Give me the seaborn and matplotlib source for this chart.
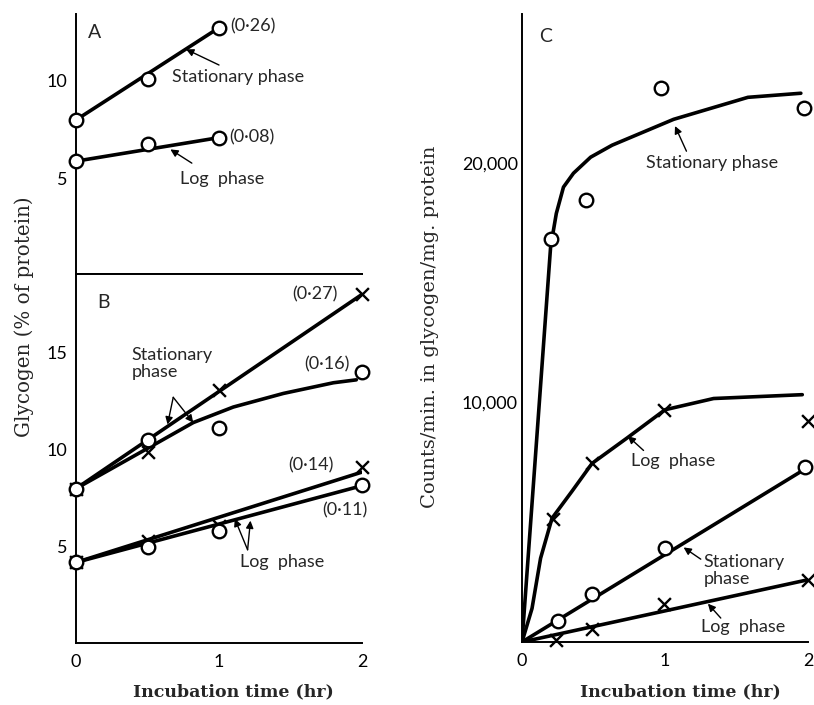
import matplotlib
matplotlib.use("Agg")
import matplotlib.pyplot as plt
import seaborn as sns

sns.set_style("white")
plt.rcParams['font.family'] = ['Lato', 'DejaVu Sans']

# ---------------- data ----------------
# Panel A: glycogen (% of protein), open circles
a_time = [0, 0.5, 1]
a_stationary = [8.0, 10.1, 12.7]
a_log = [5.9, 6.8, 7.1]
a_fit_time = [0, 1]
a_stationary_fit = [8.0, 12.7]
a_log_fit = [5.9, 7.1]

# Panel B: crosses and circles
b_time = [0, 0.5, 1, 2]
b_stat_cross = [8.0, 9.9, 13.1, 18.0]
b_stat_circle = [8.0, 10.5, 11.1, 14.0]
b_log_cross = [4.2, 5.3, 6.1, 9.1]
b_log_circle = [4.2, 5.0, 5.8, 8.2]
b_line_time = [0, 2]
b_stat_cross_fit = [8.0, 18.0]
b_stat_circle_fit_time = [0, 0.57, 0.82, 1.10, 1.45, 1.80, 1.96]
b_stat_circle_fit = [8.0, 10.36, 11.4, 12.2, 12.9, 13.45, 13.6]
b_log_cross_fit = [4.2, 8.85]
b_log_circle_fit = [4.2, 8.15]

# Panel C: counts/min in glycogen/mg protein
c_stat_top_time = [0.2, 0.45, 0.97, 1.97]
c_stat_top = [16850, 18450, 23150, 22300]
c_log_top_time = [0.22, 0.49, 0.99, 2.0]
c_log_top = [5130, 7460, 9700, 9250]
c_stat_low_time = [0.25, 0.49, 1.0, 1.98]
c_stat_low = [880, 2000, 3920, 7290]
c_log_low_time = [0.24, 0.49, 0.99, 2.0]
c_log_low = [80, 540, 1580, 2580]

c_stat_top_fit_time = [0, 0.2, 0.24, 0.29, 0.36, 0.48, 0.63, 1.06, 1.58, 1.95]
c_stat_top_fit = [0, 16500, 17900, 19000, 19580, 20250, 20750, 21830, 22750, 22920]
c_log_top_fit_time = [0, 0.07, 0.13, 0.21, 0.35, 0.49, 0.73, 1.0, 1.34, 1.96]
c_log_top_fit = [0, 1400, 3500, 5170, 6300, 7460, 8500, 9700, 10170, 10330]
c_line_time = [0, 2]
c_stat_low_fit = [0, 7300]
c_log_low_fit = [0, 2600]

x_tick_labels = ["0", "1", "2"]
c_y_tick_labels = ["10,000", "20,000"]

# ---------------- figure ----------------
W, H = 814, 705
fig = plt.figure(figsize=(W / 100, H / 100), dpi=100)


def box(l, t, r, b):
    return [l / W, 1 - b / H, (r - l) / W, (b - t) / H]


axA = fig.add_axes(box(76, 14, 362, 274))
axB = fig.add_axes(box(76, 274, 362, 643))
axC = fig.add_axes(box(522, 14, 808, 642))

LW = 2.6
FS = 13


def fit(ax, x, y):
    sns.lineplot(x=x, y=y, ax=ax, color="black", linewidth=LW,
                 estimator=None, sort=False, legend=False, zorder=3)


def pts(ax, x, y, m):
    if m == "o":
        sns.scatterplot(x=x, y=y, ax=ax, marker="o", s=95, facecolor="white",
                        edgecolor="black", linewidth=1.7, zorder=5, legend=False)
    else:
        sns.scatterplot(x=x, y=y, ax=ax, marker="x", s=85, color="black",
                        linewidth=1.7, zorder=5, legend=False)
    ax.collections[-1].set_clip_on(False)


def arrow(ax, tail, head):
    ax.annotate("", xy=head, xytext=tail,
                arrowprops=dict(arrowstyle="-|>", color="black", lw=1.0,
                                mutation_scale=11, shrinkA=0, shrinkB=0))


# Panel A
fit(axA, a_fit_time, a_stationary_fit)
fit(axA, a_fit_time, a_log_fit)
pts(axA, a_time, a_stationary, "o")
pts(axA, a_time, a_log, "o")
axA.text(0.08, 12.45, "A", fontsize=14, va="center", ha="left")
axA.text(1.08, 12.75, "(0·26)", fontsize=FS, va="center", ha="left")
axA.text(0.67, 10.2, "Stationary phase", fontsize=FS, va="center", ha="left")
arrow(axA, (1.0, 10.8), (0.77, 11.6))
axA.text(1.07, 7.1, "(0·08)", fontsize=FS, va="center", ha="left")
axA.text(0.73, 5.0, "Log  phase", fontsize=FS, va="center", ha="left")
arrow(axA, (0.81, 5.8), (0.66, 6.5))

# Panel B
fit(axB, b_line_time, b_stat_cross_fit)
fit(axB, b_stat_circle_fit_time, b_stat_circle_fit)
fit(axB, b_line_time, b_log_cross_fit)
fit(axB, b_line_time, b_log_circle_fit)
pts(axB, b_time, b_stat_cross, "x")
pts(axB, b_time, b_stat_circle, "o")
pts(axB, b_time, b_log_cross, "x")
pts(axB, b_time, b_log_circle, "o")
axB.text(0.15, 17.6, "B", fontsize=14, va="center", ha="left")
axB.text(1.83, 18.0, "(0·27)", fontsize=FS, va="center", ha="right")
axB.text(1.91, 14.4, "(0·16)", fontsize=FS, va="center", ha="right")
axB.text(1.80, 9.2, "(0·14)", fontsize=FS, va="center", ha="right")
axB.text(1.72, 6.9, "(0·11)", fontsize=FS, va="center", ha="left")
axB.text(0.39, 14.45, "Stationary\nphase", fontsize=FS, va="center", ha="left",
         linespacing=1.1)
arrow(axB, (0.68, 12.7), (0.64, 11.3))
arrow(axB, (0.68, 12.7), (0.82, 11.4))
axB.text(1.15, 4.2, "Log  phase", fontsize=FS, va="center", ha="left")
arrow(axB, (1.2, 4.85), (1.11, 6.45))
arrow(axB, (1.2, 4.85), (1.22, 6.35))

# Panel C
fit(axC, c_stat_top_fit_time, c_stat_top_fit)
fit(axC, c_log_top_fit_time, c_log_top_fit)
fit(axC, c_line_time, c_stat_low_fit)
fit(axC, c_line_time, c_log_low_fit)
pts(axC, c_stat_top_time, c_stat_top, "o")
pts(axC, c_log_top_time, c_log_top, "x")
pts(axC, c_stat_low_time, c_stat_low, "o")
pts(axC, c_log_low_time, c_log_low, "x")
axC.text(0.12, 25300, "C", fontsize=14, va="center", ha="left")
axC.text(0.87, 20000, "Stationary phase", fontsize=FS, va="center", ha="left")
arrow(axC, (1.15, 20500), (1.07, 21550))
axC.text(0.76, 7540, "Log  phase", fontsize=FS, va="center", ha="left")
arrow(axC, (0.85, 8000), (0.74, 8600))
axC.text(1.27, 2980, "Stationary\nphase", fontsize=FS, va="center", ha="left",
         linespacing=1.1)
arrow(axC, (1.25, 3460), (1.13, 3950))
axC.text(1.25, 630, "Log  phase", fontsize=FS, va="center", ha="left")
arrow(axC, (1.39, 1000), (1.30, 1600))

# ---------------- axes styling ----------------
for ax in (axA, axB, axC):
    ax.set_xlim(0, 2)
    ax.set_xlabel("")
    ax.set_ylabel("")
    ax.spines["right"].set_visible(False)
    for s in ax.spines.values():
        s.set_linewidth(1.4)
        s.set_color("black")
    ax.tick_params(which="both", direction="in", width=1.3, colors="black",
                   labelsize=FS, pad=6)
    ax.tick_params(axis="y", which="both", length=8)
    ax.tick_params(axis="x", which="both", length=10)

axA.spines["top"].set_visible(False)
axC.spines["top"].set_visible(False)

axA.set_ylim(0.15, 13.4)
axA.set_xticks([0.5, 1])
axA.tick_params(axis="x", labelbottom=False, length=12)
axA.set_yticks([5, 10])

axB.set_ylim(0.05, 19.05)
axB.set_xticks([0, 1, 2])
axB.set_xticklabels(x_tick_labels)
axB.set_xticks([0.5, 1.5], minor=True)
axB.set_yticks([5, 10, 15])
axB.tick_params(axis="x", pad=8)

axC.set_ylim(0, 26230)
axC.set_xticks([0, 1, 2])
axC.set_xticklabels(x_tick_labels)
axC.set_xticks([0.5, 1.5], minor=True)
axC.set_yticks([10000, 20000])
axC.set_yticklabels(c_y_tick_labels)
axC.set_yticks([5000, 15000], minor=True)
axC.tick_params(axis="x", pad=8)
axC.tick_params(axis="y", which="both", length=12, pad=3)

# axis titles
serif = ["DejaVu Serif"]
fig.text(24 / W, 1 - 317 / H, "Glycogen (% of protein)", rotation=90,
         ha="center", va="center", fontsize=14.3, family=serif)
fig.text(430 / W, 1 - 327 / H, "Counts/min. in glycogen/mg. protein",
         rotation=90, ha="center", va="center", fontsize=14, family=serif)
fig.text(233 / W, 1 - 692 / H, "Incubation time (hr)", ha="center",
         va="center", fontsize=12.5, fontweight="bold", family=serif)
fig.text(680 / W, 1 - 692 / H, "Incubation time (hr)", ha="center",
         va="center", fontsize=12.5, fontweight="bold", family=serif)

fig.savefig("out.png", dpi=100, facecolor="white")
